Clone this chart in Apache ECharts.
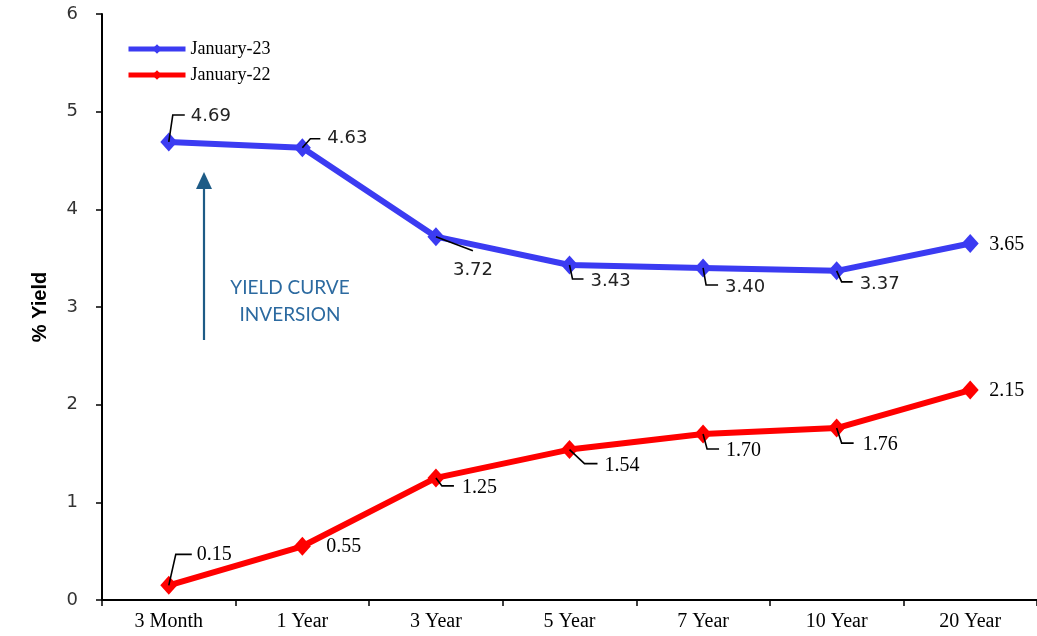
<!DOCTYPE html>
<html>
<head>
<meta charset="utf-8">
<script src="https://cdn.jsdelivr.net/npm/echarts@6/dist/echarts.min.js"></script>
<style>html,body{margin:0;padding:0;background:#fff}#c{width:1037px;height:636px}</style>
</head>
<body>
<div id="c"></div>
<script>
var categories = ['3 Month', '1 Year', '3 Year', '5 Year', '7 Year', '10 Year', '20 Year'];
var jan23 = [4.69, 4.63, 3.72, 3.43, 3.40, 3.37, 3.65];
var jan22 = [0.15, 0.55, 1.25, 1.54, 1.70, 1.76, 2.15];
var seriesNames = ['January-23', 'January-22'];
var yTicks = [0, 1, 2, 3, 4, 5, 6];

var SANS = '"DejaVu Sans", Verdana, sans-serif';
var SERIF = '"Liberation Serif", "Times New Roman", serif';

// label placement (pixel offsets from each point): leader polyline + text anchor + font
var place23 = [
  {lead: [[0,0],[4,-27],[16,-27]], t: [22,-26], f: SANS},
  {lead: [[0,0],[8,-9],[18,-9]], t: [25,-9], f: SANS},
  {lead: [[0,0],[37,14]], t: [17,34], f: SANS},
  {lead: [[0,0],[3,14],[14,14]], t: [21,16], f: SANS},
  {lead: [[0,0],[3,17],[15,17]], t: [22,19], f: SANS},
  {lead: [[0,0],[5,11],[16,11]], t: [23,13], f: SANS},
  {lead: null, t: [19,1], f: SERIF}
];
var place22 = [
  {lead: [[0,0],[7,-31],[23,-31]], t: [28,-31], f: SERIF},
  {lead: null, t: [24,0], f: SERIF},
  {lead: [[0,0],[6,8],[18,8]], t: [26,10], f: SERIF},
  {lead: [[0,0],[15,14],[28,14]], t: [35,16], f: SERIF},
  {lead: [[0,0],[4,15],[16,15]], t: [23,17], f: SERIF},
  {lead: [[0,0],[5,15],[17,15]], t: [26,17], f: SERIF},
  {lead: null, t: [19,1], f: SERIF}
];

function labelSeries(values, place) {
  return {
    type: 'custom',
    coordinateSystem: 'cartesian2d',
    silent: true,
    z: 5,
    encode: {x: 0, y: 1},
    data: values.map(function (v, i) { return [i, v]; }),
    renderItem: function (params, api) {
      var i = params.dataIndex;
      var p = api.coord([api.value(0), api.value(1)]);
      var pl = place[i];
      var children = [];
      if (pl.lead) {
        children.push({
          type: 'polyline',
          shape: {points: pl.lead.map(function (d) { return [p[0] + d[0], p[1] + d[1]]; })},
          style: {stroke: '#000', lineWidth: 1.6, fill: null},
          z2: 1
        });
      }
      var isSerif = pl.f === SERIF;
      children.push({
        type: 'text',
        x: p[0] + pl.t[0],
        y: p[1] + pl.t[1],
        style: {
          text: api.value(1).toFixed(2),
          fill: isSerif ? '#000' : '#222',
          fontSize: isSerif ? 20 : 18,
          fontFamily: pl.f,
          align: 'left',
          verticalAlign: 'middle'
        },
        z2: 2
      });
      return {type: 'group', children: children};
    }
  };
}

var chart = echarts.init(document.getElementById('c'));
chart.setOption({
  animation: false,
  backgroundColor: '#fff',
  grid: {left: 102, top: 14, width: 938, height: 586, containLabel: false},
  legend: {
    data: seriesNames,
    orient: 'vertical',
    left: 121,
    top: 35,
    itemWidth: 57,
    itemHeight: 12,
    itemGap: 8,
    lineStyle: {width: 5},
    textStyle: {fontFamily: SERIF, fontSize: 18, color: '#000'}
  },
  xAxis: {
    type: 'category',
    data: categories,
    boundaryGap: true,
    axisLine: {show: true, lineStyle: {color: '#000', width: 2}},
    axisTick: {show: true, alignWithLabel: false, length: 6, lineStyle: {color: '#000', width: 1.5}},
    axisLabel: {margin: 12, fontFamily: SERIF, fontSize: 20, color: '#000'},
    splitLine: {show: false}
  },
  yAxis: {
    type: 'value',
    min: yTicks[0],
    max: yTicks[yTicks.length - 1],
    interval: 1,
    name: '% Yield',
    nameLocation: 'middle',
    nameGap: 52,
    nameRotate: 90,
    nameTextStyle: {fontFamily: '"Liberation Sans", Arial, sans-serif', fontWeight: 'bold', fontSize: 20, color: '#000'},
    axisLine: {show: true, lineStyle: {color: '#000', width: 2}},
    axisTick: {show: true, length: 6, lineStyle: {color: '#000', width: 1.5}},
    axisLabel: {margin: 24, fontFamily: SANS, fontSize: 18, color: '#333'},
    splitLine: {show: false}
  },
  series: [
    {
      name: seriesNames[0],
      type: 'line',
      data: jan23,
      color: '#3b3bf2',
      lineStyle: {width: 6, color: '#3b3bf2'},
      symbol: 'diamond',
      symbolSize: [17, 19],
      itemStyle: {color: '#3b3bf2'},
      z: 3
    },
    {
      name: seriesNames[1],
      type: 'line',
      data: jan22,
      color: '#ff0000',
      lineStyle: {width: 6, color: '#ff0000'},
      symbol: 'diamond',
      symbolSize: [17, 19],
      itemStyle: {color: '#ff0000'},
      z: 3
    },
    labelSeries(jan23, place23),
    labelSeries(jan22, place22)
  ],
  graphic: [
    {
      type: 'group',
      children: [
        {type: 'line', shape: {x1: 204, y1: 340, x2: 204, y2: 186}, style: {stroke: '#1d5b86', lineWidth: 2.2}},
        {type: 'polygon', shape: {points: [[204, 172], [196, 189], [212, 189]]}, style: {fill: '#1d5b86'}},
        {type: 'text', x: 290, y: 288, style: {text: 'YIELD CURVE', fontFamily: 'Lato, "Open Sans", sans-serif', fontSize: 19, fill: '#2c6aa0', align: 'center', verticalAlign: 'middle'}},
        {type: 'text', x: 290, y: 315, style: {text: 'INVERSION', fontFamily: 'Lato, "Open Sans", sans-serif', fontSize: 19, fill: '#2c6aa0', align: 'center', verticalAlign: 'middle'}}
      ]
    }
  ]
});
</script>
</body>
</html>
